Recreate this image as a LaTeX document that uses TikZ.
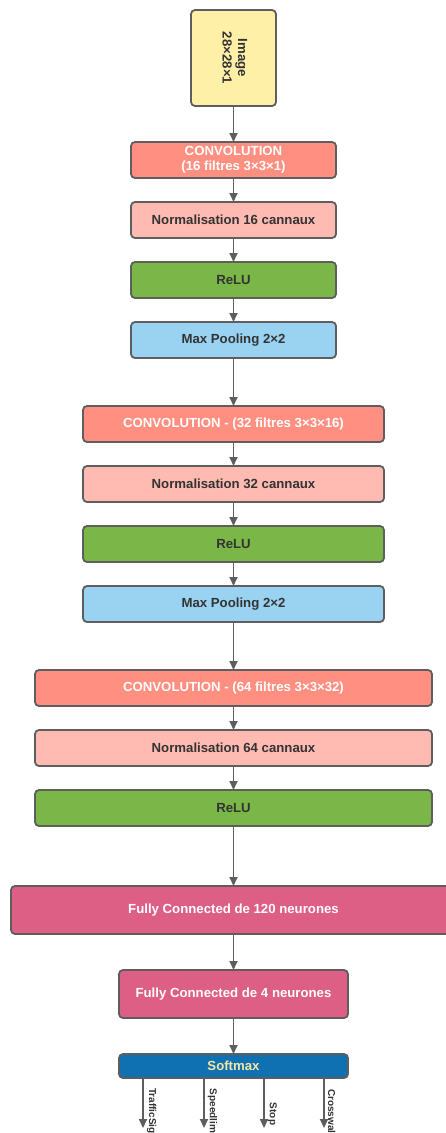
\documentclass[tikz,border=0pt]{standalone}
\usepackage{fontspec}
\setmainfont{Liberation Sans}
\usetikzlibrary{positioning,arrows.meta}

\definecolor{edgegray}{HTML}{5E5E5E}
\definecolor{textgray}{HTML}{333333}
\definecolor{imgyellow}{HTML}{FFF0A8}
\definecolor{convred}{HTML}{FF8F80}
\definecolor{normpink}{HTML}{FFBBB1}
\definecolor{relugreen}{HTML}{7AB648}
\definecolor{poolblue}{HTML}{9AD3F2}
\definecolor{fcpink}{HTML}{DE5F85}
\definecolor{softblue}{HTML}{1071B2}
\definecolor{softtext}{HTML}{F5E6A3}

\begin{document}
\begin{tikzpicture}[
			x=1pt, y=1pt,
			node distance=24pt,
			layerbox/.style={rectangle, rounded corners=4pt, draw=edgegray, line width=1.8pt, minimum height=36pt, inner sep=2pt, outer sep=0pt, align=center, font=\bfseries\fontsize{13.2}{15.5}\selectfont},
			imgbox/.style={layerbox, fill=imgyellow, text=textgray, minimum width=85pt, minimum height=96pt},
			convbox/.style={layerbox, fill=convred, text=white},
			normbox/.style={layerbox, fill=normpink, text=textgray},
			relubox/.style={layerbox, fill=relugreen, text=textgray},
			poolbox/.style={layerbox, fill=poolblue, text=textgray},
			fcbox/.style={layerbox, fill=fcpink, text=white, minimum height=48pt},
			softbox/.style={layerbox, fill=softblue, text=softtext, minimum height=24pt},
			flow/.style={draw=edgegray, line width=1.8pt, -{Triangle[length=9pt, width=8pt]}},
			outlabel/.style={rotate=-90, anchor=south, inner sep=3pt, text=textgray, font=\bfseries\fontsize{10}{12}\selectfont},
		]
		
			\useasboundingbox (0,0) rectangle (445,-1133);
		
			%Nodes
			\node[imgbox] (image) at (233.5,-58) {\rotatebox[origin=c]{-90}{\begin{tabular}{@{}c@{}}Image\\28×28×1\end{tabular}}};
		
			\node[convbox, minimum width=205pt] (conv1) [below=36pt of image] {CONVOLUTION\\(16 filtres 3×3×1)};
			\node[normbox, minimum width=205pt] (norm1) [below=of conv1] {Normalisation 16 cannaux};
			\node[relubox, minimum width=205pt] (relu1) [below=of norm1] {ReLU};
			\node[poolbox, minimum width=205pt] (pool1) [below=of relu1] {Max Pooling 2×2};
		
			\node[convbox, minimum width=301pt] (conv2) [below=48pt of pool1] {CONVOLUTION - (32 filtres 3×3×16)};
			\node[normbox, minimum width=301pt] (norm2) [below=of conv2] {Normalisation 32 cannaux};
			\node[relubox, minimum width=301pt] (relu2) [below=of norm2] {ReLU};
			\node[poolbox, minimum width=301pt] (pool2) [below=of relu2] {Max Pooling 2×2};
		
			\node[convbox, minimum width=397pt] (conv3) [below=48pt of pool2] {CONVOLUTION - (64 filtres 3×3×32)};
			\node[normbox, minimum width=397pt] (norm3) [below=of conv3] {Normalisation 64 cannaux};
			\node[relubox, minimum width=397pt] (relu3) [below=of norm3] {ReLU};
		
			\node[fcbox, minimum width=445pt] (fc120) [below=60pt of relu3] {Fully Connected de 120 neurones};
			\node[fcbox, minimum width=229pt] (fc4) [below=36pt of fc120] {Fully Connected de 4 neurones};
			\node[softbox, minimum width=229pt] (softmax) [below=36pt of fc4] {Softmax};
		
			\coordinate (out1) at (143,-1128);
			\coordinate (out2) at (204,-1128);
			\coordinate (out3) at (264,-1128);
			\coordinate (out4) at (324,-1128);
		
			%Lines
			\draw[flow] (image) -- (conv1);
			\draw[flow] (conv1) -- (norm1);
			\draw[flow] (norm1) -- (relu1);
			\draw[flow] (relu1) -- (pool1);
			\draw[flow] (pool1) -- (conv2);
			\draw[flow] (conv2) -- (norm2);
			\draw[flow] (norm2) -- (relu2);
			\draw[flow] (relu2) -- (pool2);
			\draw[flow] (pool2) -- (conv3);
			\draw[flow] (conv3) -- (norm3);
			\draw[flow] (norm3) -- (relu3);
			\draw[flow] (relu3) -- (fc120);
			\draw[flow] (fc120) -- (fc4);
			\draw[flow] (fc4) -- (softmax);
		
			\draw[flow] (softmax.south -| out1) -- node[outlabel, pos=0.72] {TrafficSign} (out1);
			\draw[flow] (softmax.south -| out2) -- node[outlabel, pos=0.72] {Speedlimit} (out2);
			\draw[flow] (softmax.south -| out3) -- node[outlabel, pos=0.72] {Stop} (out3);
			\draw[flow] (softmax.south -| out4) -- node[outlabel, pos=0.72] {Crosswalk} (out4);
		
		\end{tikzpicture}
\end{document}
